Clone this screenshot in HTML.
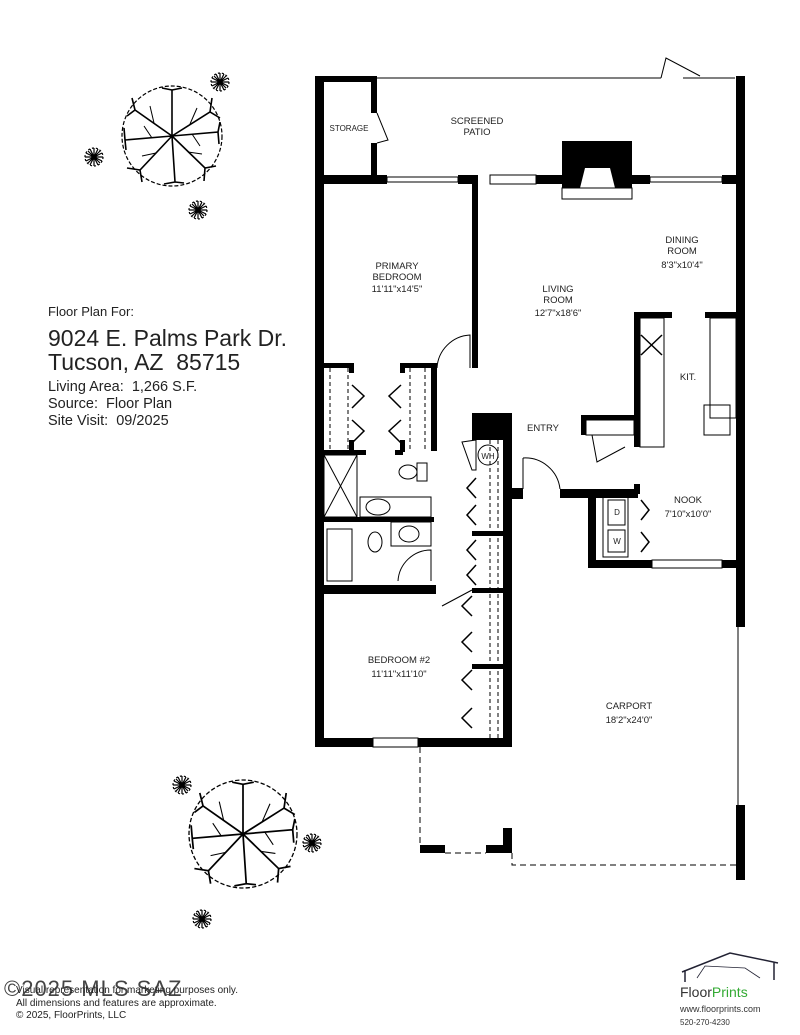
<!DOCTYPE html>
<html><head><style>
body{margin:0;background:#fff;width:800px;height:1035px;overflow:hidden;font-family:"Liberation Sans",sans-serif}
.t{position:absolute;color:#222}
</style></head><body>
<svg width="800" height="1035" style="position:absolute;left:0;top:0" font-family="Liberation Sans, sans-serif">
<defs>
<g id="tree" stroke="#000" fill="none" stroke-width="1.6">
<circle r="50" stroke-dasharray="4,2" stroke-width="1.2"/>
<path d="M0 0L-37-26L-45-20M-37-26L-40-38M0 0L38-24L48-18M38-24L40-38M0 0L-32 34L-45 32M-32 34L-30 46M0 0L33 32L44 30M33 32L32 45M0 0L0-46L-10-48M0-46L10-48M0 0L3 46L-8 48M3 46L12 47M0 0L-47 4L-48-8M-47 4L-46 14M0 0L46-4L48-14M46-4L47 8"/>
<path d="M-18-13L-22-30M18-12L25-28M-16 17L-30 20M16 16L30 18M-20 2L-28-10M20-2L28 10" stroke-width="1"/>
</g>
<g id="star" stroke="#000" stroke-width="1.2">
<path d="M-9 0H9M0-9V9M-6-6L6 6M-6 6L6-6M-8-4L8 4M-8 4L8-4M-4-8L4 8M4-8L-4 8"/>
<circle r="9" fill="none" stroke-dasharray="2,2"/>
</g>
</defs>
<g fill="#000">
<rect x="315" y="76" width="9" height="671"/>
<rect x="315" y="76" width="62" height="6"/>
<rect x="371" y="76" width="6" height="37"/>
<rect x="371" y="143" width="6" height="37"/>
<rect x="736" y="76" width="9" height="551"/>
<rect x="736" y="805" width="9" height="75"/>
<rect x="315" y="175" width="72" height="9"/>
<rect x="458" y="175" width="20" height="9"/>
<rect x="536" y="175" width="26" height="9"/>
<rect x="632" y="175" width="18" height="9"/>
<rect x="722" y="175" width="23" height="9"/>
<path d="M562 141H632V188H615L610 168H585L580 188H562Z"/>
<rect x="472" y="184" width="6" height="184"/>
<rect x="634" y="312" width="38" height="6"/>
<rect x="705" y="312" width="31" height="6"/>
<rect x="634" y="312" width="6" height="135"/>
<rect x="581" y="415" width="59" height="5"/>
<rect x="581" y="415" width="5" height="20"/>
<rect x="324" y="363" width="30" height="5"/>
<rect x="349" y="363" width="5" height="10"/>
<rect x="400" y="363" width="37" height="5"/>
<rect x="400" y="363" width="5" height="10"/>
<rect x="431" y="363" width="6" height="88"/>
<rect x="324" y="450" width="42" height="5"/>
<rect x="395" y="450" width="8" height="5"/>
<rect x="349" y="440" width="5" height="12"/>
<rect x="400" y="440" width="5" height="12"/>
<rect x="324" y="517" width="110" height="5"/>
<rect x="324" y="585" width="112" height="9"/>
<rect x="472" y="413" width="35" height="27"/>
<rect x="503" y="413" width="9" height="334"/>
<rect x="507" y="488" width="16" height="11"/>
<rect x="472" y="531" width="35" height="5"/>
<rect x="472" y="588" width="35" height="5"/>
<rect x="472" y="664" width="35" height="5"/>
<rect x="560" y="489" width="78" height="9"/>
<rect x="634" y="484" width="6" height="10"/>
<rect x="588" y="489" width="8" height="79"/>
<rect x="588" y="560" width="64" height="8"/>
<rect x="722" y="560" width="23" height="8"/>
<rect x="315" y="738" width="58" height="9"/>
<rect x="418" y="738" width="94" height="9"/>
<rect x="420" y="845" width="25" height="8"/>
<rect x="486" y="845" width="26" height="8"/>
<rect x="503" y="828" width="9" height="25"/>
</g>
<g fill="none" stroke="#000" stroke-width="1">
<path d="M377 78H661M683 78H735"/>
<path d="M661 78L666 58L700 76" />
<path d="M377 113L388 140L377 143"/>
<rect x="387" y="177" width="71" height="5"/>
<rect x="490" y="175" width="46" height="9"/>
<rect x="650" y="177" width="72" height="5"/>
<rect x="562" y="188" width="70" height="11"/>
<path d="M437 368A35 35 0 0 1 470 335V368"/>
<rect x="640" y="318" width="24" height="129"/>
<rect x="710" y="318" width="26" height="100"/>
<rect x="704" y="405" width="26" height="30"/>
<rect x="586" y="420" width="48" height="15"/>
<path d="M592 435L597 462L625 447"/>
<path d="M523 458A35 35 0 0 1 560 489"/>
<path d="M523 458V489"/>
<path d="M462 442L476 440L476 470L472 470Z"/>
<circle cx="488" cy="455" r="10"/>
<rect x="324" y="455" width="33" height="62"/>
<path d="M324 455L357 517M357 455L324 517"/>
<rect x="360" y="497" width="71" height="20"/>
<ellipse cx="378" cy="507" rx="12" ry="8"/>
<ellipse cx="408" cy="472" rx="9" ry="7"/>
<rect x="417" y="463" width="10" height="18"/>
<rect x="327" y="529" width="25" height="52"/>
<ellipse cx="375" cy="542" rx="7" ry="10"/>
<rect x="391" y="522" width="40" height="24"/>
<ellipse cx="409" cy="534" rx="10" ry="8"/>
<path d="M398 581A33 33 0 0 1 431 550V581"/>
<path d="M442 606L472 590"/>
<rect x="603" y="497" width="25" height="60"/>
<rect x="608" y="500" width="17" height="25"/>
<rect x="608" y="530" width="17" height="22"/>
<rect x="652" y="560" width="70" height="8"/>
<rect x="373" y="738" width="45" height="9"/>
<path d="M738 627V805"/>
<path d="M420 747V845M445 853H486M512 853V865H736" stroke-dasharray="6,4"/>
<path d="M330 368V450M348 368V450M410 368V450M425 368V450M490 440V740M498 440V740" stroke-dasharray="4,3"/>
</g>
<g fill="none" stroke="#000" stroke-width="1.5">
<path d="M352 385L364 396L352 408M352 420L364 431L352 443"/>
<path d="M401 385L389 396L401 408M401 420L389 431L401 443"/>
<path d="M476 478L467 488L476 498M476 505L467 515L476 525M476 540L467 550L476 560M476 565L467 575L476 585"/>
<path d="M472 596L462 606L472 616M472 632L462 642L472 652M472 670L462 680L472 690M472 708L462 718L472 728"/>
<path d="M641 500L649 510L641 520M641 532L649 542L641 552"/>
<path d="M641 335L662 355M662 335L641 355"/>
</g>
<g font-size="9.5" fill="#222" text-anchor="middle">
<text x="349" y="131" font-size="8">STORAGE</text>
<text x="477" y="124">SCREENED</text><text x="477" y="135">PATIO</text>
<text x="397" y="269">PRIMARY</text><text x="397" y="280">BEDROOM</text><text x="397" y="292">11'11"x14'5"</text>
<text x="558" y="292">LIVING</text><text x="558" y="303">ROOM</text><text x="558" y="316">12'7"x18'6"</text>
<text x="682" y="243">DINING</text><text x="682" y="254">ROOM</text><text x="682" y="268">8'3"x10'4"</text>
<text x="688" y="380">KIT.</text>
<text x="543" y="431">ENTRY</text>
<text x="688" y="503">NOOK</text><text x="688" y="517">7'10"x10'0"</text>
<text x="399" y="663">BEDROOM #2</text><text x="399" y="677">11'11"x11'10"</text>
<text x="629" y="709">CARPORT</text><text x="629" y="723">18'2"x24'0"</text>
<text x="488" y="459" font-size="8">WH</text>
<text x="617" y="515" font-size="8">D</text><text x="617" y="544" font-size="8">W</text>
</g>
<use href="#tree" x="172" y="136"/>
<use href="#tree" x="243" y="834" transform="translate(243 834) scale(1.08) translate(-243 -834)"/>
<use href="#star" x="220" y="82"/><use href="#star" x="94" y="157"/><use href="#star" x="198" y="210"/>
<use href="#star" x="182" y="785"/><use href="#star" x="312" y="843"/><use href="#star" x="202" y="919"/>
<g stroke="#223" fill="none" stroke-width="1.5">
<path d="M682 972L730 953L778 963M685 970V982M774 962V980"/>
<path d="M697 978L705 966L745 968L760 978" stroke-width="0.8"/>
</g>
<text x="680" y="997" font-size="14" fill="#333">Floor<tspan fill="#3a3">Prints</tspan></text>
<text x="680" y="1012" font-size="9" fill="#333">www.floorprints.com</text>
<text x="680" y="1025" font-size="8" fill="#333">520-270-4230</text>
</svg>
<div class="t" style="left:48px;top:304px;font-size:13px">Floor Plan For:</div>
<div class="t" style="left:48px;top:326px;font-size:23px;line-height:24px">9024 E. Palms Park Dr.<br>Tucson, AZ&nbsp; 85715</div>
<div class="t" style="left:48px;top:379px;font-size:14.5px;line-height:17px">Living Area:&nbsp; 1,266 S.F.<br>Source:&nbsp; Floor Plan<br>Site Visit:&nbsp; 09/2025</div>
<div class="t" style="left:4px;top:976px;font-size:22px;color:#444;letter-spacing:1px">©2025 MLS SAZ</div>
<div class="t" style="left:16px;top:985px;font-size:10px;line-height:12.5px">Visual representation for marketing purposes only.<br>All dimensions and features are approximate.<br>© 2025, FloorPrints, LLC</div>
</body></html>
